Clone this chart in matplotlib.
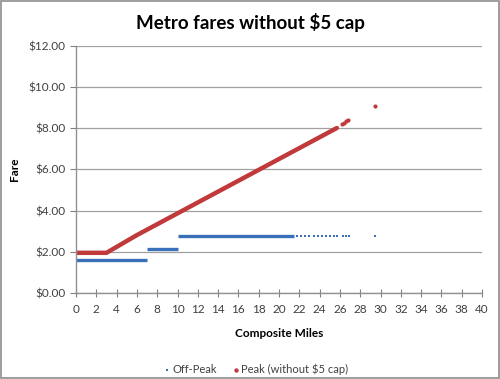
import matplotlib.pyplot as plt
from matplotlib.patches import Rectangle

plt.rcParams['font.family'] = ['Lato', 'DejaVu Sans']

# off-peak: flat fare steps (start mile, end mile, fare)
offpeak_steps = [(0.0, 7.0, 1.60), (7.0, 10.0, 2.15), (10.0, 21.5, 2.75)]
# sparse off-peak trips further out
offpeak_tail_miles = [21.8, 22.2, 22.6, 23.0, 23.4, 23.8, 24.2, 24.6, 25.0,
                      25.4, 25.7, 26.3, 26.6, 26.9, 29.5]
offpeak_tail_fare = 2.75

# peak (no cap): fare curve breakpoints
peak_miles = [0.0, 3.0, 6.0, 25.7]
peak_fares = [1.95, 1.95, 2.81, 8.01]
# sparse peak trips
peak_tail_miles = [26.2, 26.4, 26.6, 26.8, 29.5]
peak_tail_fares = [8.22, 8.27, 8.33, 8.38, 9.07]

blue = '#3a6fba'
red = '#c0393b'

fig = plt.figure(figsize=(5.0, 3.79), dpi=100)
ax = fig.add_axes([0.152, 0.227, 0.812, 0.652])

for x0, x1, fare in offpeak_steps:
    ax.plot([x0, x1], [fare, fare], color=blue, lw=2.4, solid_capstyle='butt')
ax.scatter(offpeak_tail_miles, [offpeak_tail_fare] * len(offpeak_tail_miles),
           s=3, marker='s', color=blue, linewidths=0)

ax.plot(peak_miles, peak_fares, color=red, lw=3.2, solid_capstyle='round')
ax.scatter(peak_tail_miles, peak_tail_fares, s=9, color=red, linewidths=0)

ax.set_xlim(0, 40)
ax.set_ylim(0, 12)
ax.set_xticks(range(0, 41, 2))
ax.set_yticks(range(0, 13, 2))
ax.set_yticklabels(['$%.2f' % v for v in range(0, 13, 2)])
ax.tick_params(axis='both', labelsize=8.5, colors='#808080', labelcolor='#404040')
ax.tick_params(axis='x', direction='inout', length=6, pad=5)
ax.tick_params(axis='y', direction='out', length=4)
ax.grid(axis='y', color='#a0a0a0', lw=0.9)
ax.set_axisbelow(True)
for s in ['top', 'right']:
    ax.spines[s].set_visible(False)
for s in ['left', 'bottom']:
    ax.spines[s].set_color('#909090')
    ax.spines[s].set_linewidth(1.0)

ax.set_xlabel('Composite Miles', fontsize=8.5, fontweight='bold', labelpad=9)
ax.set_ylabel('Fare', fontsize=8.5, fontweight='bold', labelpad=6)
fig.suptitle('Metro fares without $5 cap', fontsize=13.5, fontweight='bold', y=0.965)

h1 = ax.scatter([], [], s=4, marker='s', color=blue, linewidths=0)
h2 = ax.scatter([], [], s=10, color=red, linewidths=0)
fig.legend([h1, h2], ['Off-Peak', 'Peak (without $5 cap)'], loc='center',
           bbox_to_anchor=(0.51, 0.027), ncol=2, frameon=False, fontsize=8,
           handlelength=1.0, handletextpad=0.0, columnspacing=1.2,
           labelcolor='#404040')

fig.patches.append(Rectangle((0.002, 0.003), 0.996, 0.994, transform=fig.transFigure,
                             fill=False, edgecolor='#8c8c8c', lw=1.2))

fig.savefig('out.png', dpi=100)
